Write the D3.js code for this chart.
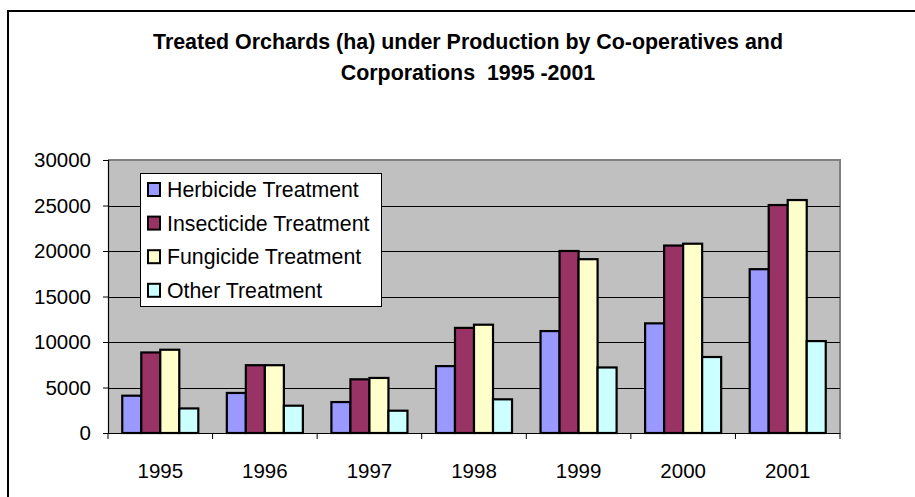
<!DOCTYPE html>
<html>
<head>
<meta charset="utf-8">
<script src="https://cdn.jsdelivr.net/npm/d3@7"></script>
<style>
  html, body { margin: 0; padding: 0; background: #fff; }
  svg { display: block; font-family: "Liberation Sans", Arial, sans-serif; }
</style>
</head>
<body>
<svg id="chart" width="915" height="497"></svg>
<script>
const years = ["1995", "1996", "1997", "1998", "1999", "2000", "2001"];
const seriesNames = ["Herbicide Treatment", "Insecticide Treatment", "Fungicide Treatment", "Other Treatment"];
const herbicide   = [4100, 4400, 3400, 7350, 11200, 12050, 18000];
const insecticide = [8850, 7450, 5900, 11550, 20000, 20600, 25050];
const fungicide   = [9150, 7450, 6050, 11900, 19100, 20800, 25600];
const other       = [2700, 3000, 2450, 3700, 7200, 8350, 10100];
const yTicks = [0, 5000, 10000, 15000, 20000, 25000, 30000];
const colors = ["#9999FF", "#993366", "#FFFFCC", "#CCFFFF"];
const titleLines = ["Treated Orchards (ha) under Production by Co-operatives and", "Corporations  1995 -2001"];

const seriesValues = [herbicide, insecticide, fungicide, other];

const svg = d3.select("#chart");
const pLeft = 108, pRight = 840, pTop = 160, pBottom = 433;

// outer chart border
svg.append("rect").attr("x", 8).attr("y", 11).attr("width", 930).attr("height", 520)
  .attr("fill", "#fff").attr("stroke", "#000").attr("stroke-width", 2);

// title
const title = svg.append("text").attr("text-anchor", "middle")
  .attr("font-weight", "bold").attr("font-size", 21.4).attr("fill", "#000")
  .style("white-space", "pre");
titleLines.forEach((t, i) => {
  title.append("tspan").attr("x", 468).attr("y", 49 + i * 31).text(t);
});

const x0 = d3.scaleBand().domain(years).range([pLeft, pRight]).paddingInner(0).paddingOuter(0);
const groupInner = 4 / 5.5;
const x1 = d3.scaleBand().domain(d3.range(4))
  .range([0, x0.bandwidth() * groupInner]);
const y = d3.scaleLinear().domain([0, 30000]).range([pBottom, pTop]);

// plot area
svg.append("rect").attr("x", pLeft).attr("y", pTop).attr("width", pRight - pLeft).attr("height", pBottom - pTop)
  .attr("fill", "#C0C0C0");
svg.append("path")
  .attr("d", `M${pLeft},${pTop}H${pRight}V${pBottom}`)
  .attr("fill", "none").attr("stroke", "#808080").attr("stroke-width", 2);

// gridlines
svg.append("g").selectAll("line").data(yTicks.filter(d => d > 0 && d < 30000)).join("line")
  .attr("x1", pLeft).attr("x2", pRight)
  .attr("y1", d => Math.round(y(d)) + 0.5).attr("y2", d => Math.round(y(d)) + 0.5)
  .attr("stroke", "#000").attr("stroke-width", 1);

// bars
const offset = x0.bandwidth() * (1.5 / 5.5) / 2;
const groups = svg.append("g").selectAll("g").data(years).join("g")
  .attr("transform", d => `translate(${x0(d) + offset},0)`);
groups.selectAll("rect").data((d, i) => seriesValues.map((s, k) => ({ k, v: s[i] }))).join("rect")
  .attr("x", d => x1(d.k))
  .attr("width", x1.bandwidth())
  .attr("y", d => y(d.v))
  .attr("height", d => pBottom - y(d.v))
  .attr("fill", d => colors[d.k])
  .attr("stroke", "#000").attr("stroke-width", 2.2);

// y axis
const yAxis = d3.axisLeft(y).tickValues(yTicks).tickSize(5).tickPadding(12).tickFormat(d3.format("d"));
const gy = svg.append("g").attr("transform", `translate(${pLeft},0)`).call(yAxis);
gy.select(".domain").attr("stroke", "#000").attr("stroke-width", 1.2);
gy.selectAll(".tick line").attr("stroke", "#000");
gy.selectAll(".tick text").attr("font-size", 20.5).attr("fill", "#000")
  .attr("font-family", "Liberation Sans, Arial, sans-serif");

// x axis
const xAxis = d3.axisBottom(x0).tickSize(0).tickPadding(30);
const gx = svg.append("g").attr("transform", `translate(0,${pBottom})`).call(xAxis);
gx.select(".domain").attr("stroke", "#000").attr("stroke-width", 1.2);
gx.selectAll(".tick text").attr("font-size", 20.5).attr("fill", "#000")
  .attr("font-family", "Liberation Sans, Arial, sans-serif");
// category boundary ticks
const bounds = years.map(d => x0(d)).concat([pRight]);
gx.append("g").selectAll("line").data(bounds).join("line")
  .attr("x1", d => d).attr("x2", d => d).attr("y1", 0).attr("y2", 6)
  .attr("stroke", "#000");

// legend
const lg = svg.append("g");
lg.append("rect").attr("x", 140.5).attr("y", 173.5).attr("width", 241).attr("height", 133)
  .attr("fill", "#fff").attr("stroke", "#000").attr("stroke-width", 1);
const items = lg.selectAll("g").data(seriesNames).join("g")
  .attr("transform", (d, i) => `translate(0,${189.5 + i * 33.6})`);
items.append("rect").attr("x", 148).attr("y", -6.5).attr("width", 12).attr("height", 13)
  .attr("fill", (d, i) => colors[i]).attr("stroke", "#000").attr("stroke-width", 2);
items.append("text").attr("x", 167).attr("y", 7.5).attr("font-size", 21.3).attr("fill", "#000")
  .text(d => d);
</script>
</body>
</html>
